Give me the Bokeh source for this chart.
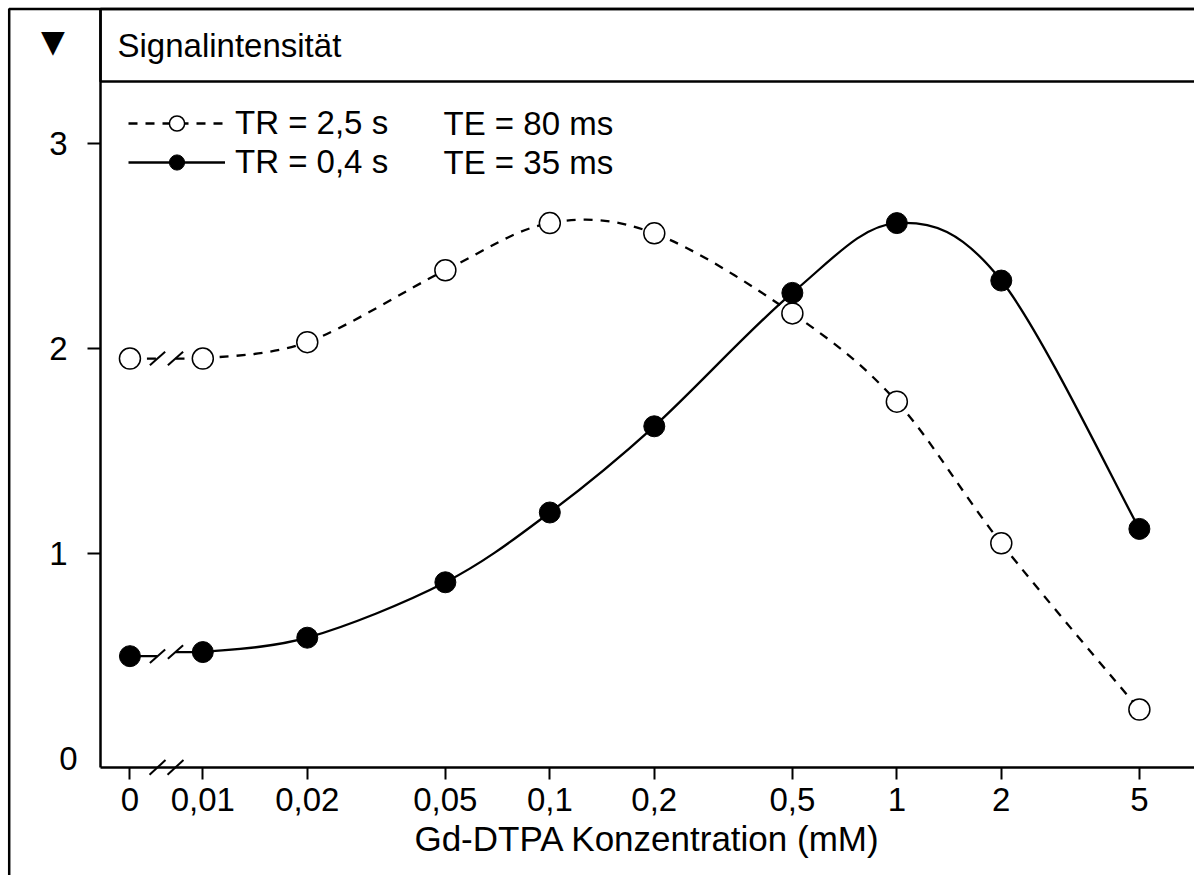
import numpy as np
from bokeh.plotting import figure
from bokeh.models import (FixedTicker, Range1d, Legend, LegendItem, Label,
                          BoxAnnotation, Arrow, ColumnDataSource)
from bokeh.embed import file_html
from bokeh.resources import INLINE

# ---------------- data ----------------
conc = [0, 0.01, 0.02, 0.05, 0.1, 0.2, 0.5, 1, 2, 5]
tick_labels = ["0", "0,01", "0,02", "0,05", "0,1", "0,2", "0,5", "1", "2", "5"]
si_tr25 = [1.95, 1.95, 2.03, 2.38, 2.61, 2.56, 2.17, 1.74, 1.05, 0.24]
si_tr04 = [0.50, 0.52, 0.59, 0.86, 1.20, 1.62, 2.27, 2.61, 2.33, 1.12]
legend_tr = ["TR = 2,5 s", "TR = 0,4 s"]
legend_te = ["TE = 80 ms", "TE = 35 ms"]
y_ticks = [1, 2, 3]
x_label = "Gd-DTPA Konzentration (mM)"
y_title = "Signalintensität"

FONT = "Liberation Sans"
FS = "33px"
W, H = 1194, 875

# the "0" sits left of an axis break on the log axis
ZERO_POS = 10 ** -2.21
BREAK_U = (-2.1305, -2.0787)   # log10 positions of the "//" marks
x_plot = [c if c > 0 else ZERO_POS for c in conc]

# axis positions (data units) and range of the whole drawing area
X_AXIS_AT = -0.042             # y value where the x axis is drawn
Y_AXIS_AT = 10 ** -2.2948      # x value where the y axis is drawn
X_END = 10 ** 0.8578
Y_TOP = 3.6555


def smooth(xs, ys):
    """Catmull-Rom spline through the points, as cubic Bezier pieces (log-x space)."""
    u = np.log10(np.asarray(xs, dtype=float))
    y = np.asarray(ys, dtype=float)
    up = np.concatenate([[u[0]], u, [u[-1]]])
    yp = np.concatenate([[y[0]], y, [y[-1]]])
    d = dict(x0=[], y0=[], x1=[], y1=[], cx0=[], cy0=[], cx1=[], cy1=[])
    for i in range(len(u) - 1):
        a, b, c, e = i, i + 1, i + 2, i + 3
        d["x0"].append(10 ** up[b]); d["y0"].append(yp[b])
        d["x1"].append(10 ** up[c]); d["y1"].append(yp[c])
        d["cx0"].append(10 ** (up[b] + (up[c] - up[a]) / 6))
        d["cy0"].append(yp[b] + (yp[c] - yp[a]) / 6)
        d["cx1"].append(10 ** (up[c] - (up[e] - up[b]) / 6))
        d["cy1"].append(yp[c] - (yp[e] - yp[b]) / 6)
    return ColumnDataSource(d)


p = figure(width=W, height=H, x_axis_type="log",
           x_range=Range1d(10 ** -2.583, X_END),
           y_range=Range1d(-0.5686, 3.6945),
           output_backend="svg", toolbar_location=None,
           min_border_left=0, min_border_right=0,
           min_border_top=0, min_border_bottom=0)
p.grid.visible = False
p.outline_line_color = None
p.background_fill_color = "white"
p.border_fill_color = "white"


def cy(y_px):
    """screen-unit y for a canvas pixel row (frame covers the whole canvas)."""
    return H - y_px


# ---------------- axes ----------------
xa = p.xaxis[0]
xa.fixed_location = X_AXIS_AT
xa.bounds = (Y_AXIS_AT, X_END)
xa.ticker = FixedTicker(ticks=x_plot, minor_ticks=[])
xa.major_label_overrides = {xp: lab for xp, lab in zip(x_plot, tick_labels)}
xa.axis_line_width = 2.5
xa.major_tick_line_width = 2
xa.major_tick_out = 12
xa.major_tick_in = 0
xa.minor_tick_out = 0
xa.minor_tick_in = 0
xa.major_label_standoff = 9
xa.major_label_text_font = FONT
xa.major_label_text_font_size = FS
xa.major_label_text_color = "black"
xa.axis_label = x_label
xa.axis_label_text_font = FONT
xa.axis_label_text_font_size = "35px"
xa.axis_label_text_font_style = "normal"
xa.axis_label_text_color = "black"
xa.axis_label_standoff = 4

ya = p.yaxis[0]
ya.fixed_location = Y_AXIS_AT
ya.bounds = (X_AXIS_AT, Y_TOP)
ya.ticker = FixedTicker(ticks=y_ticks, minor_ticks=[])
ya.axis_line_width = 2.5
ya.major_tick_line_width = 2
ya.major_tick_out = 13
ya.major_tick_in = 0
ya.minor_tick_out = 0
ya.minor_tick_in = 0
ya.major_label_standoff = 20
ya.major_label_text_font = FONT
ya.major_label_text_font_size = FS
ya.major_label_text_color = "black"

# "0" of the y axis (no tick mark in the original)
p.add_layout(Label(x=77, y=0, x_units="screen", y_units="data", text="0",
                   text_align="right", text_baseline="middle",
                   text_font=FONT, text_font_size=FS, text_color="black"))

# ---------------- frame / header decoration ----------------
box_style = dict(left_units="screen", right_units="screen",
                 top_units="screen", bottom_units="screen",
                 fill_color=None, fill_alpha=0,
                 line_color="black", line_alpha=1.0, line_width=2.5)
p.add_layout(BoxAnnotation(left=8.7, right=W + 50, top=cy(8.5), bottom=cy(H + 50),
                           **box_style))
p.add_layout(BoxAnnotation(left=100, right=W + 50, top=cy(8.5), bottom=cy(81),
                           **box_style))
p.add_layout(Label(x=117, y=cy(44.5), x_units="screen", y_units="screen",
                   text=y_title, text_baseline="middle",
                   text_font=FONT, text_font_size=FS, text_color="black"))
p.add_layout(Label(x=52.5, y=cy(40), x_units="screen", y_units="screen",
                   text="\u25BC", text_align="center", text_baseline="middle",
                   text_font="DejaVu Sans", text_font_size="31px", text_color="black"))

# ---------------- curves ----------------
DASH = "9 8"
p.bezier("x0", "y0", "x1", "y1", "cx0", "cy0", "cx1", "cy1",
         source=smooth(x_plot[1:], si_tr25[1:]),
         line_color="black", line_width=2.3, line_dash=DASH)
p.bezier("x0", "y0", "x1", "y1", "cx0", "cy0", "cx1", "cy1",
         source=smooth(x_plot[1:], si_tr04[1:]),
         line_color="black", line_width=2.3)

# broken segment between 0 and 0,01
break_r = []
for ys, dash in ((si_tr25, DASH), (si_tr04, "solid")):
    r = p.segment(x0=[x_plot[0], 10 ** BREAK_U[1]], y0=[ys[0], ys[1]],
                  x1=[10 ** BREAK_U[0], x_plot[1]], y1=[ys[0], ys[1]],
                  line_color="black", line_width=2.3, line_dash=dash)
    break_r.append(r)
    for bu, yv in zip(BREAK_U, (ys[0], ys[1])):
        p.add_layout(Arrow(end=None, x_start=10 ** (bu - 0.022), y_start=yv - 0.033,
                           x_end=10 ** (bu + 0.022), y_end=yv + 0.033,
                           line_color="black", line_width=2))
# axis break
for bu in BREAK_U:
    p.add_layout(Arrow(end=None, x_start=10 ** (bu - 0.023), y_start=X_AXIS_AT - 0.036,
                       x_end=10 ** (bu + 0.023), y_end=X_AXIS_AT + 0.036,
                       line_color="black", line_width=2))

open_r = p.scatter(x_plot, si_tr25, marker="circle", size=21,
                   fill_color="white", line_color="black", line_width=1.5)
filled_r = p.scatter(x_plot, si_tr04, marker="circle", size=21,
                     fill_color="black", line_color="black", line_width=1)

# ---------------- legend ----------------
legend = Legend(items=[LegendItem(label=legend_tr[0], renderers=[break_r[0], open_r]),
                       LegendItem(label=legend_tr[1], renderers=[break_r[1], filled_r])],
                location=(128, 694), glyph_width=97, glyph_height=38, label_height=38,
                label_standoff=10, spacing=1, padding=0, margin=0,
                border_line_color=None, background_fill_alpha=0,
                label_text_font=FONT, label_text_font_size=FS, label_text_color="black")
p.add_layout(legend)
for txt, yv in zip(legend_te, (cy(123.3), cy(162))):
    p.add_layout(Label(x=443, y=yv, x_units="screen", y_units="screen", text=txt,
                       text_baseline="middle", text_font=FONT, text_font_size=FS,
                       text_color="black"))

open("out.html", "w").write(file_html(p, INLINE))
